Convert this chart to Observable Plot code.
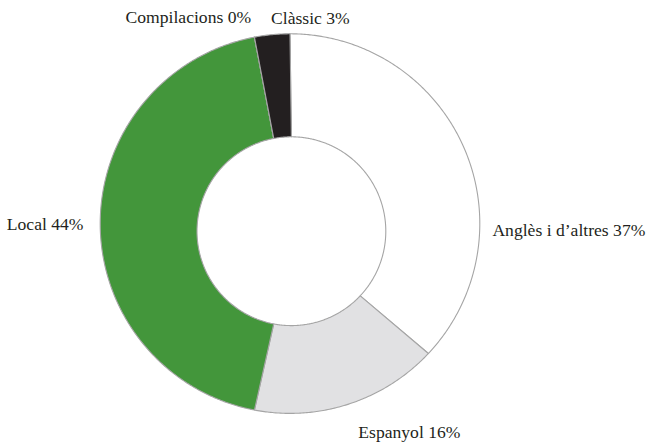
<!DOCTYPE html>
<html>
<head>
<meta charset="utf-8">
<script src="https://cdn.jsdelivr.net/npm/d3@7"></script>
<script src="https://cdn.jsdelivr.net/npm/@observablehq/plot@0.6"></script>
<style>
  html, body { margin: 0; padding: 0; background: #ffffff; }
  #chart svg, #chart svg text { font-family: "Liberation Serif", "Times New Roman", Times, "DejaVu Serif", serif !important; }
</style>
</head>
<body>
<div id="chart"></div>
<script>
// ---- data ----
const categories = ["Anglès i d’altres", "Espanyol", "Local", "Compilacions", "Clàssic"];
const values = [37, 16, 44, 0, 3];
const sliceColors = ["#ffffff", "#e1e1e3", "#43963b", "#ffffff", "#231f20"];

// ---- layout ----
const W = 647, H = 445;
const outer = {cx: 290, cy: 223.6, r: 189.8};
const inner = {cx: 291.4, cy: 231.2, r: 94.4};
const labelR = 207;
const labelTweaks = {
  "Anglès i d’altres": {angle: 91.7, r: 202},
  "Espanyol": {r: 219.5},
  "Compilacions": {r: 210},
  "Clàssic": {anchor: "start"}
};

const slices = d3.pie().sort(null).value(d => d.value).startAngle(0).endAngle(2 * Math.PI)(
  categories.map((name, i) => ({name, value: values[i]}))
);

// ring sector outlines sampled along the angle
const pts = [];
for (const s of slices) {
  const n = Math.max(1, Math.ceil((s.endAngle - s.startAngle) / (Math.PI / 360)));
  for (let k = 0; k <= n; k++) {
    const t = s.startAngle + (s.endAngle - s.startAngle) * k / n;
    pts.push({
      name: s.data.name,
      xo: outer.cx + outer.r * Math.sin(t), yo: outer.cy - outer.r * Math.cos(t),
      xi: inner.cx + inner.r * Math.sin(t), yi: inner.cy - inner.r * Math.cos(t)
    });
  }
}

const labels = slices.map(s => {
  const tw = labelTweaks[s.data.name] || {};
  const a = tw.angle != null ? tw.angle * Math.PI / 180 : (s.startAngle + s.endAngle) / 2;
  const r = tw.r || labelR;
  return {
    text: `${s.data.name} ${s.data.value}%`,
    x: outer.cx + r * Math.sin(a),
    y: outer.cy - r * Math.cos(a),
    anchor: tw.anchor || (Math.sin(a) >= 0 ? "start" : "end")
  };
});

const serif = "Liberation Serif, Times New Roman, serif";
const chart = Plot.plot({
  width: W,
  height: H,
  margin: 0,
  style: {background: "#ffffff"},
  x: {axis: null, domain: [0, W], range: [0, W]},
  y: {axis: null, domain: [0, H], range: [0, H]},
  color: {domain: categories, range: sliceColors},
  marks: [
    Plot.area(pts, {x1: "xo", y1: "yo", x2: "xi", y2: "yi", z: "name", fill: "name",
      stroke: "#a5a5a5", strokeWidth: 1.1, curve: "linear"}),
    Plot.text(labels.filter(d => d.anchor === "start"), {x: "x", y: "y", text: "text",
      textAnchor: "start", fontSize: 17.6, fontFamily: serif, fill: "#231f20"}),
    Plot.text(labels.filter(d => d.anchor === "end"), {x: "x", y: "y", text: "text",
      textAnchor: "end", fontSize: 17.6, fontFamily: serif, fill: "#231f20"})
  ]
});
document.getElementById("chart").appendChild(chart);
</script>
</body>
</html>
